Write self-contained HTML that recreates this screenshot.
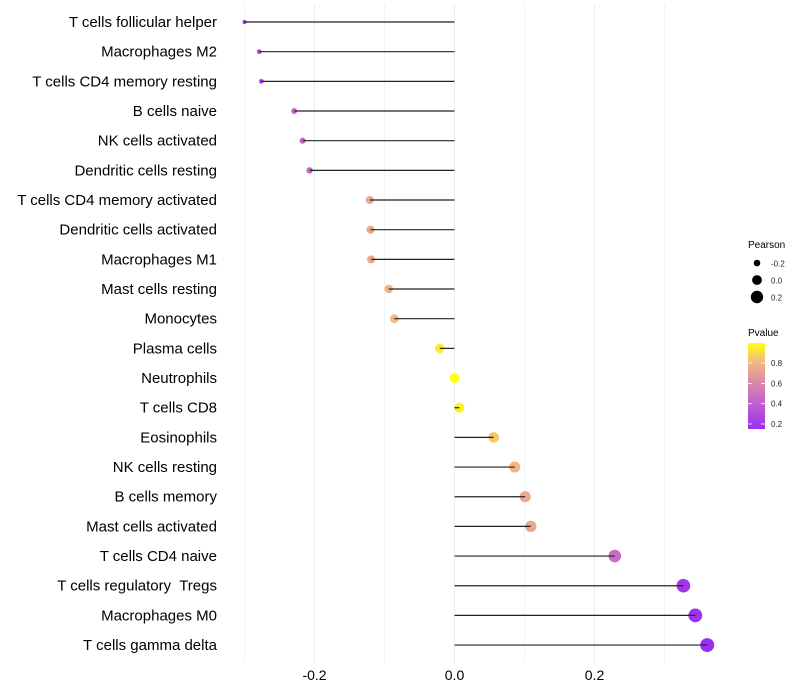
<!DOCTYPE html>
<html><head><meta charset="utf-8"><style>
body{margin:0;background:#fff;}
svg{display:block;font-family:"Liberation Sans",Arial,sans-serif;}
text{white-space:pre;}
</style></head><body>
<svg id="chart" width="800" height="700" viewBox="0 0 800 700">
<defs>
<linearGradient id="pgrad" x1="0" y1="1" x2="0" y2="0">
<stop offset="0" stop-color="#9B2EF2"/>
<stop offset="0.3" stop-color="#C062D0"/>
<stop offset="0.55" stop-color="#DC8AA8"/>
<stop offset="0.78" stop-color="#F2B882"/>
<stop offset="1" stop-color="#FFFF10"/>
</linearGradient>
</defs>
<g id="grid"></g>
<g id="labels"></g>
<g id="points"></g>
<g id="segs"></g>
<g id="xticks"></g>
<g>
<text x="748" y="248" font-size="10" fill="#000">Pearson</text>
<circle cx="757" cy="263" r="3.3" fill="#000"/>
<text x="771" y="266.5" font-size="8" fill="#222">-0.2</text>
<circle cx="757" cy="280" r="4.9" fill="#000"/>
<text x="771" y="283.5" font-size="8" fill="#222">0.0</text>
<circle cx="757" cy="297" r="6.2" fill="#000"/>
<text x="771" y="300.5" font-size="8" fill="#222">0.2</text>
</g>
<g>
<text x="748" y="336" font-size="10" fill="#000">Pvalue</text>
<rect x="748" y="343" width="17" height="86" fill="url(#pgrad)"/>
<g id="cbticks"></g>
</g>
</svg>
<script>
const categories=["T cells follicular helper","Macrophages M2","T cells CD4 memory resting","B cells naive","NK cells activated","Dendritic cells resting","T cells CD4 memory activated","Dendritic cells activated","Macrophages M1","Mast cells resting","Monocytes","Plasma cells","Neutrophils","T cells CD8","Eosinophils","NK cells resting","B cells memory","Mast cells activated","T cells CD4 naive","T cells regulatory  Tregs","Macrophages M0","T cells gamma delta"];
const pearson=[-0.300,-0.279,-0.276,-0.229,-0.217,-0.207,-0.121,-0.120,-0.119,-0.094,-0.086,-0.021,0.0,0.007,0.056,0.086,0.101,0.109,0.229,0.327,0.344,0.361];
const pvalue=[0.18,0.25,0.25,0.42,0.42,0.44,0.72,0.72,0.72,0.78,0.80,0.95,1.0,0.97,0.85,0.78,0.74,0.72,0.45,0.20,0.18,0.15];
const xTicks=[-0.2,0.0,0.2];
const xTickLabels=["-0.2","0.0","0.2"];
const xMinor=[-0.3,-0.1,0.1,0.3];
const cbTicks=[0.2,0.4,0.6,0.8];

const NS="http://www.w3.org/2000/svg";
function xs(v){return 454.5+v*700;}
function ys(i){return 22+i*29.67;}
function cbY(p){return 424-(p-0.2)*101.5;}
function rs(p){return Math.sqrt(Math.max(4,4+(p+0.3)*68));}
function lerp(a,b,t){return Math.round(a+(b-a)*t);}
const stops=[[0.16,[155,46,242]],[0.4,[196,96,206]],[0.6,[224,140,160]],[0.8,[242,184,130]],[1.0,[255,255,16]]];
function col(p){
 if(p<=stops[0][0])return "rgb("+stops[0][1]+")";
 for(let k=1;k<stops.length;k++){if(p<=stops[k][0]){const t=(p-stops[k-1][0])/(stops[k][0]-stops[k-1][0]);const a=stops[k-1][1],b=stops[k][1];return "rgb("+lerp(a[0],b[0],t)+","+lerp(a[1],b[1],t)+","+lerp(a[2],b[2],t)+")";}}
 return "rgb(255,255,16)";
}
function mk(t,attrs,parent){const e=document.createElementNS(NS,t);for(const k in attrs)e.setAttribute(k,attrs[k]);document.getElementById(parent).appendChild(e);return e;}
xMinor.forEach(v=>{const l=mk("line",{x1:xs(v),x2:xs(v),y1:5,y2:663,stroke:"#f2f2f2","stroke-width":1},"grid");

});
xTicks.forEach((v,i)=>{const l=mk("line",{x1:xs(v),x2:xs(v),y1:5,y2:663,stroke:"#ebebeb","stroke-width":1},"grid");


const t=mk("text",{x:xs(v),y:680,"font-size":14,"text-anchor":"middle",fill:"#000"},"xticks");t.textContent=xTickLabels[i];

});
categories.forEach((c,i)=>{
 const t=mk("text",{x:217,y:ys(i)+5,"font-size":15,"text-anchor":"end",fill:"#000"},"labels");t.textContent=c;
 
 
 const p=mk("circle",{cx:xs(pearson[i]),cy:ys(i),r:rs(pearson[i]),fill:col(pvalue[i])},"points");
 
 
 const s=mk("line",{x1:xs(0),x2:xs(pearson[i]),y1:ys(i),y2:ys(i),stroke:"#222","stroke-width":1.2},"segs");
 
 
});
cbTicks.forEach(v=>{const l=mk("line",{x1:748,x2:752,y1:cbY(v),y2:cbY(v),stroke:"#fff","stroke-width":0.8},"cbticks");


const l2=mk("line",{x1:761,x2:765,y1:cbY(v),y2:cbY(v),stroke:"#fff","stroke-width":0.8},"cbticks");


const t=mk("text",{x:771,y:cbY(v)+3,"font-size":8,fill:"#222"},"cbticks");t.textContent=v.toFixed(1);

});
</script>
</body></html>
